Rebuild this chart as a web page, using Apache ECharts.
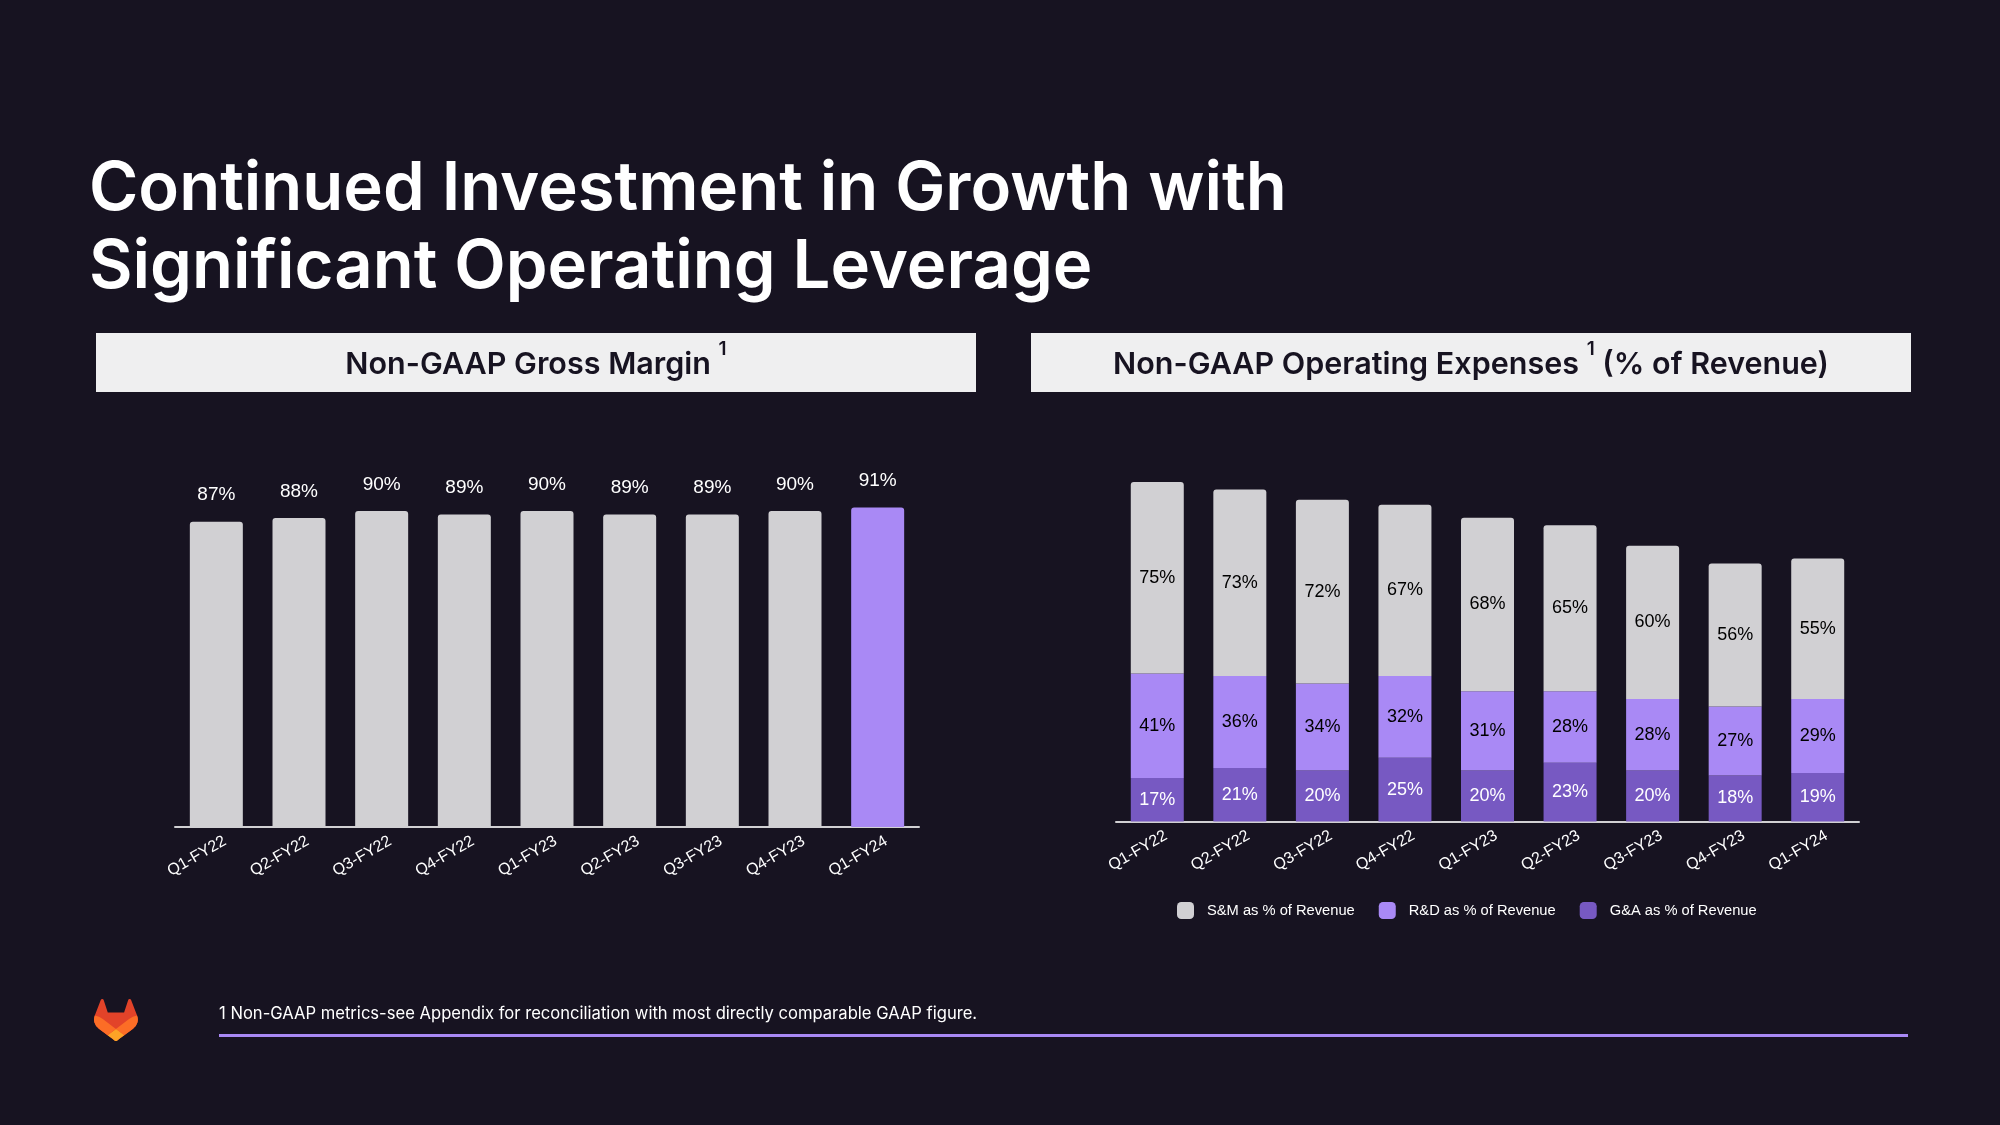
<!DOCTYPE html>
<html>
<head>
<meta charset="utf-8">
<script src="https://cdn.jsdelivr.net/npm/echarts@6/dist/echarts.min.js"></script>
<style>
html,body{margin:0;padding:0;background:#171321;}
#c{width:2000px;height:1125px;}
</style>
</head>
<body>
<div id="c"></div>
<script>
// ---- data ----
const quarters = ['Q1-FY22','Q2-FY22','Q3-FY22','Q4-FY22','Q1-FY23','Q2-FY23','Q3-FY23','Q4-FY23','Q1-FY24'];
const grossMargin = [87, 88, 90, 89, 90, 89, 89, 90, 91];
const smPct = [75, 73, 72, 67, 68, 65, 60, 56, 55];
const rdPct = [41, 36, 34, 32, 31, 28, 28, 27, 29];
const gaPct = [17, 21, 20, 25, 20, 23, 20, 18, 19];
const seriesNames = ['S&M as % of Revenue', 'R&D as % of Revenue', 'G&A as % of Revenue'];
const titleLines = ['Continued Investment in Growth with', 'Significant Operating Leverage'];
const footnote = '1 Non-GAAP metrics-see Appendix for reconciliation with most directly comparable GAAP figure.';

// ---- styles ----
const BG = '#171321', GRAY = '#d1d0d3', PURPLE = '#a989f5', DPURPLE = '#7759c2';
const chartFont = '"Liberation Sans", Arial, sans-serif';
const uiFont = 'Inter, "Noto Sans", sans-serif';

const chart = echarts.init(document.getElementById('c'), null, {renderer: 'canvas'});

const axisLabelCommon = {
  color: '#ffffff', fontFamily: chartFont, fontSize: 16, rotate: 30, margin: 18, interval: 0,
  padding: [14, -10, 0, 0]
};

const logoSvg = '<svg xmlns="http://www.w3.org/2000/svg" viewBox="0 0 25 24">' +
  '<path fill="#E24329" d="M24.507 9.5l-.034-.09L21.082.562a.896.896 0 00-1.694.091l-2.29 7.01H7.825L5.535.653a.898.898 0 00-1.694-.09L.451 9.411.416 9.5a6.297 6.297 0 002.09 7.278l.012.01.03.022 5.16 3.867 2.56 1.935 1.554 1.176a1.051 1.051 0 001.268 0l1.555-1.176 2.56-1.935 5.197-3.89.014-.01A6.297 6.297 0 0024.507 9.5z"/>' +
  '<path fill="#FC6D26" d="M24.507 9.5l-.034-.09a11.44 11.44 0 00-4.56 2.051l-7.447 5.632 4.742 3.584 5.197-3.89.014-.01A6.297 6.297 0 0024.507 9.5z"/>' +
  '<path fill="#FCA326" d="M7.707 20.677l2.56 1.935 1.555 1.176a1.051 1.051 0 001.268 0l1.555-1.176 2.56-1.935-4.743-3.584-4.755 3.584z"/>' +
  '<path fill="#FC6D26" d="M5.01 11.461a11.43 11.43 0 00-4.56-2.05L.416 9.5a6.297 6.297 0 002.09 7.278l.012.01.03.022 5.16 3.867 4.745-3.584-7.444-5.632z"/>' +
  '</svg>';
const logoUrl = 'data:image/svg+xml;charset=utf-8,' + encodeURIComponent(logoSvg);

function header(x, w, parts) {
  return [
    {type: 'rect', shape: {x: x, y: 333, width: w, height: 59}, style: {fill: '#efeff0'}, silent: true},
    {type: 'text', x: x + w / 2, y: 360, silent: true,
     style: {text: parts, align: 'center', verticalAlign: 'middle',
       rich: {
         m: {fontFamily: uiFont, fontSize: 30.5, fontWeight: 600, fill: '#171321', lineHeight: 40, verticalAlign: 'bottom'},
         s: {fontFamily: uiFont, fontSize: 19, fontWeight: 600, fill: '#171321', lineHeight: 40, verticalAlign: 'top', padding: [0, 0, 14, 0]}
       }}}
  ];
}

const graphics = [
  {type: 'text', x: 89, y: 151, silent: true,
   style: {text: titleLines.join('\n'), fill: '#ffffff', fontFamily: uiFont, fontSize: 67, fontWeight: 600, lineHeight: 78, verticalAlign: 'top'}},
  ...header(96, 880, '{m|Non-GAAP Gross Margin }{s|1}'),
  ...header(1031, 880, '{m|Non-GAAP Operating Expenses }{s|1}{m| (% of Revenue)}'),
  {type: 'text', x: 219, y: 1014, silent: true,
   style: {text: footnote, fill: '#ffffff', fontFamily: uiFont, fontSize: 16.6, verticalAlign: 'middle'}},
  {type: 'rect', shape: {x: 219, y: 1034, width: 1689, height: 3}, style: {fill: PURPLE}, silent: true},
  {type: 'image', silent: true, style: {image: logoUrl, x: 94, y: 999, width: 44, height: 42}}
];

const pct = p => p.value + '%';

const option = {
  backgroundColor: BG,
  animation: false,
  graphic: graphics,
  grid: [
    {left: 175, right: 1081, top: 476, bottom: 298},
    {left: 1116, right: 141, top: 464, bottom: 303.5}
  ],
  legend: {
    data: seriesNames,
    left: 1172, top: 897,
    itemWidth: 17, itemHeight: 17, itemGap: 24,
    icon: 'roundRect',
    textStyle: {color: '#ffffff', fontFamily: chartFont, fontSize: 14.7, padding: [0, 0, 0, 8]}
  },
  xAxis: [
    {type: 'category', gridIndex: 0, data: quarters,
     axisLine: {lineStyle: {color: GRAY, width: 2}}, axisTick: {show: false}, axisLabel: axisLabelCommon},
    {type: 'category', gridIndex: 1, data: quarters,
     axisLine: {lineStyle: {color: GRAY, width: 2}}, axisTick: {show: false}, axisLabel: axisLabelCommon}
  ],
  yAxis: [
    {type: 'value', gridIndex: 0, min: 0, max: 100, show: false, splitLine: {show: false}},
    {type: 'value', gridIndex: 1, min: 0, max: 140, show: false, splitLine: {show: false}}
  ],
  series: [
    {type: 'bar', xAxisIndex: 0, yAxisIndex: 0, barWidth: 53,
     data: grossMargin.map((v, i) => i === grossMargin.length - 1 ? {value: v, itemStyle: {color: PURPLE}} : v),
     itemStyle: {color: GRAY, borderRadius: [3, 3, 0, 0]},
     label: {show: true, position: 'top', distance: 17, color: '#ffffff', fontFamily: chartFont, fontSize: 19, formatter: pct}},
    {type: 'bar', name: seriesNames[2], xAxisIndex: 1, yAxisIndex: 1, stack: 'opex', barWidth: 53, data: gaPct,
     itemStyle: {color: DPURPLE},
     label: {show: true, position: 'inside', color: '#ffffff', fontFamily: chartFont, fontSize: 18, formatter: pct}},
    {type: 'bar', name: seriesNames[1], xAxisIndex: 1, yAxisIndex: 1, stack: 'opex', barWidth: 53, data: rdPct,
     itemStyle: {color: PURPLE},
     label: {show: true, position: 'inside', color: '#000000', fontFamily: chartFont, fontSize: 18, formatter: pct}},
    {type: 'bar', name: seriesNames[0], xAxisIndex: 1, yAxisIndex: 1, stack: 'opex', barWidth: 53, data: smPct,
     itemStyle: {color: GRAY, borderRadius: [3, 3, 0, 0]},
     label: {show: true, position: 'inside', color: '#000000', fontFamily: chartFont, fontSize: 18, formatter: pct}}
  ]
};
chart.setOption(option);
</script>
</body>
</html>
